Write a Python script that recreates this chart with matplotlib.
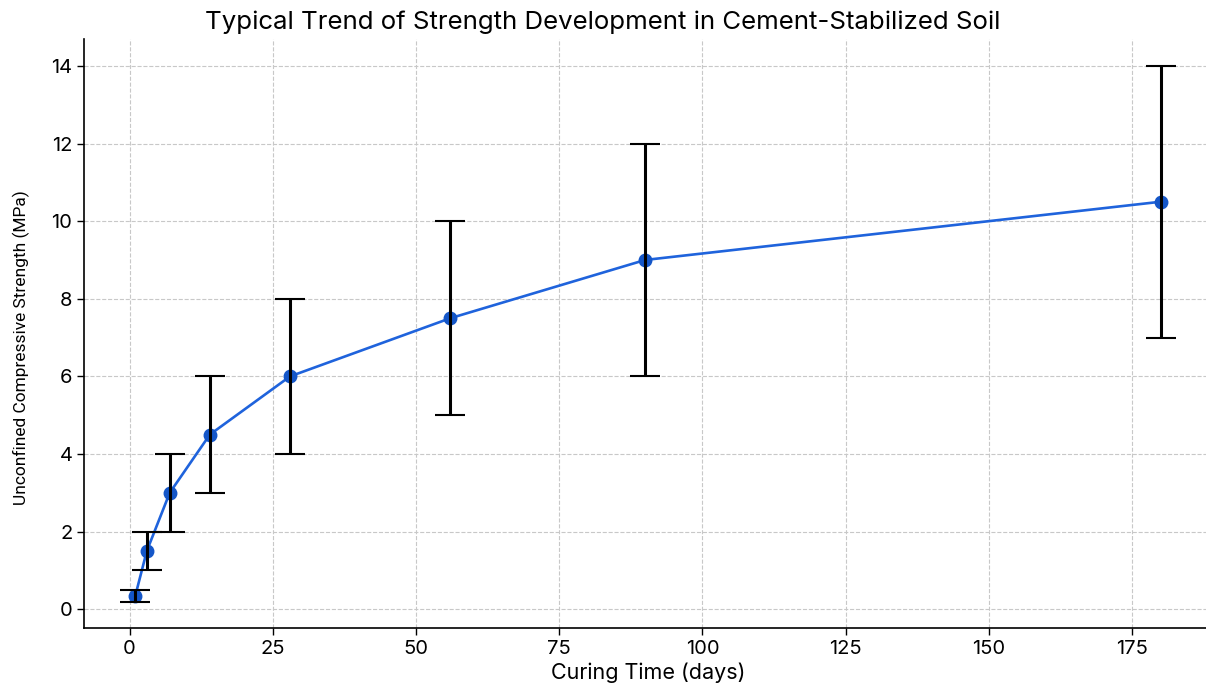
import matplotlib
matplotlib.use('Agg')
import matplotlib.pyplot as plt

plt.rcParams['font.family'] = ['Inter', 'DejaVu Sans']

# 养护龄期（天）与无侧限抗压强度（MPa）
days = [1, 3, 7, 14, 28, 56, 90, 180]
strength = [0.35, 1.5, 3.0, 4.5, 6.0, 7.5, 9.0, 10.5]
strength_err = [0.15, 0.5, 1.0, 1.5, 2.0, 2.5, 3.0, 3.5]


def main():
    fig = plt.figure(figsize=(12.06, 6.86), dpi=100)
    ax = fig.add_axes([0.0697, 0.0841, 0.9353, 0.8589])

    # 折线和数据点
    ax.plot(days, strength, 'o-', color='#1f63dc', markerfacecolor='#1456c8',
            markeredgecolor='#1456c8', markersize=9, linewidth=1.9, zorder=2)
    # 误差线画在数据点上面
    ax.errorbar(days, strength, yerr=strength_err, fmt='none',
                ecolor='black', elinewidth=2.2, capsize=10.5, capthick=1.5,
                zorder=3)

    fig.text(0.5, 0.968,
             'Typical Trend of Strength Development in Cement-Stabilized Soil',
             fontsize=18.6, ha='center', va='center')
    ax.set_xlabel('Curing Time (days)', fontsize=15.5, labelpad=3)
    ax.set_ylabel('Unconfined Compressive Strength (MPa)', fontsize=12.5,
                  family=['Liberation Sans Narrow', 'Roboto', 'DejaVu Sans'])
    ax.yaxis.set_label_coords(-0.048, 0.477)

    ax.set_yticks(range(0, 15, 2))
    ax.tick_params(labelsize=14.5, length=5, width=1)
    ax.grid(True, linestyle='--', color='#c8c8c8', linewidth=0.8)
    ax.set_axisbelow(True)

    ax.spines['top'].set_visible(False)
    ax.spines['right'].set_visible(False)
    ax.spines['left'].set_linewidth(1.2)
    ax.spines['bottom'].set_linewidth(1.2)

    fig.savefig('out.png', dpi=100)
    plt.close(fig)


if __name__ == '__main__':
    main()
